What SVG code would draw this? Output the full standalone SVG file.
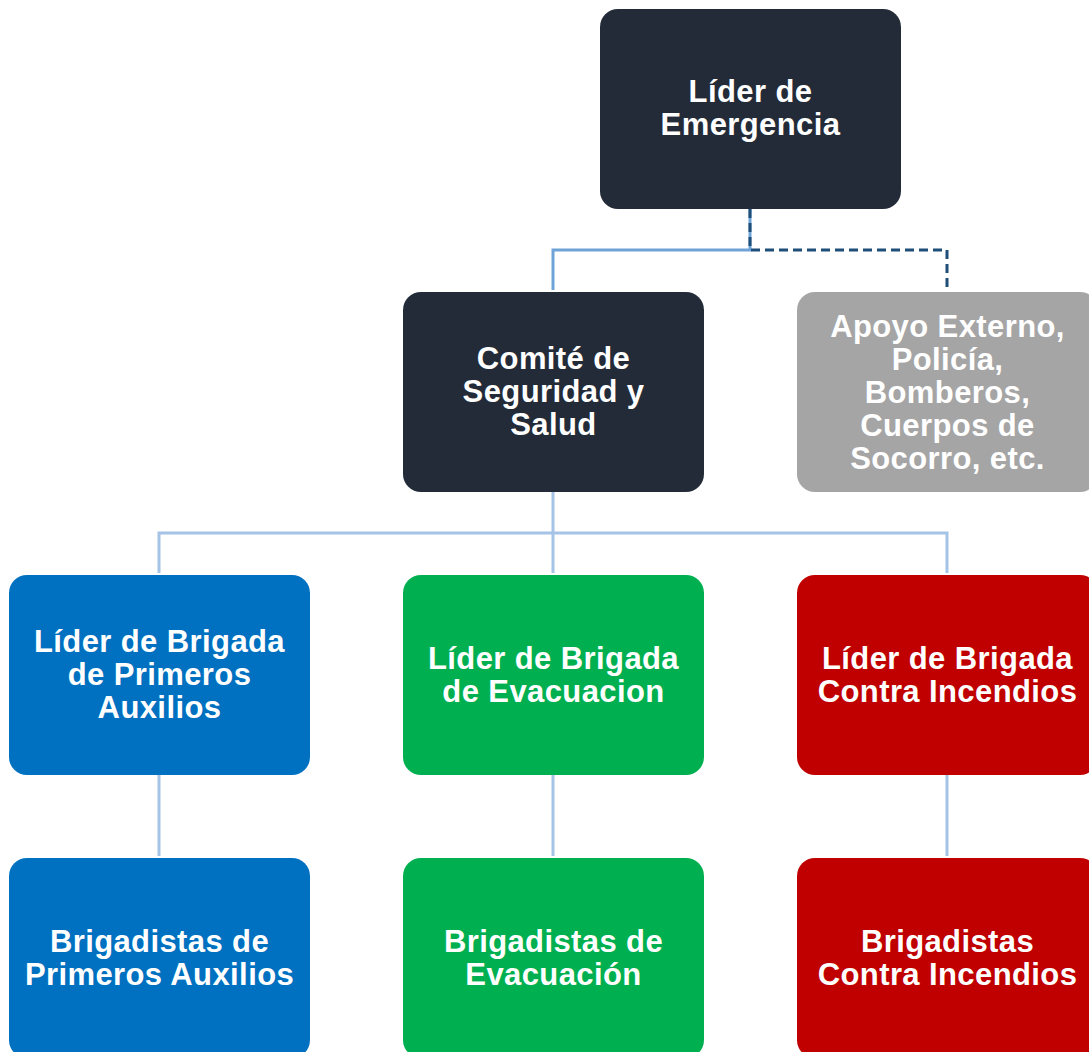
<svg xmlns="http://www.w3.org/2000/svg" width="1089" height="1052" viewBox="0 0 1089 1052">
<style>
.t{font-family:"Liberation Sans",Arial,sans-serif;font-weight:bold;font-size:31px;letter-spacing:0.4px;fill:#fff;text-anchor:middle}
.dark{fill:#232B38}.gray{fill:#A5A5A5}.blue{fill:#0070C0}.green{fill:#00B050}.red{fill:#C00000}
.c1{stroke:#6FA3D8;stroke-width:3;fill:none}
.c2{stroke:#A4C3E6;stroke-width:3;fill:none}
.d{stroke:#1F4E79;stroke-width:3;fill:none;stroke-dasharray:9 5}
</style>
<g id="connectors">
<path class="c1" d="M750 209V250H553V290"/>
<path class="d" d="M750 209V250H947V290"/>
<path class="c2" d="M553 492V533M159 573V533H947V573M553 533V573"/>
<path class="c2" d="M159 775V856M553 775V856M947 775V856"/>
</g>
<g id="n1"><rect class="dark" x="600" y="9" width="301" height="200" rx="18"/><text class="t" x="750.5" y="102">Líder de</text><text class="t" x="750.5" y="135">Emergencia</text></g>
<g id="n2"><rect class="dark" x="403" y="292" width="301" height="200" rx="18"/><text class="t" x="553.5" y="369">Comité de</text><text class="t" x="553.5" y="402">Seguridad y</text><text class="t" x="553.5" y="435">Salud</text></g>
<g id="n3"><rect class="gray" x="797" y="292" width="301" height="200" rx="18"/><text class="t" x="947.5" y="337">Apoyo Externo,</text><text class="t" x="947.5" y="370">Policía,</text><text class="t" x="947.5" y="403">Bomberos,</text><text class="t" x="947.5" y="436">Cuerpos de</text><text class="t" x="947.5" y="469">Socorro, etc.</text></g>
<g id="n4"><rect class="blue" x="9" y="575" width="301" height="200" rx="18"/><text class="t" x="159.5" y="652">Líder de Brigada</text><text class="t" x="159.5" y="685">de Primeros</text><text class="t" x="159.5" y="718">Auxilios</text></g>
<g id="n5"><rect class="green" x="403" y="575" width="301" height="200" rx="18"/><text class="t" x="553.5" y="669">Líder de Brigada</text><text class="t" x="553.5" y="702">de Evacuacion</text></g>
<g id="n6"><rect class="red" x="797" y="575" width="301" height="200" rx="18"/><text class="t" x="947.5" y="669">Líder de Brigada</text><text class="t" x="947.5" y="702">Contra Incendios</text></g>
<g id="n7"><rect class="blue" x="9" y="858" width="301" height="200" rx="18"/><text class="t" x="159.5" y="952">Brigadistas de</text><text class="t" x="159.5" y="985">Primeros Auxilios</text></g>
<g id="n8"><rect class="green" x="403" y="858" width="301" height="200" rx="18"/><text class="t" x="553.5" y="952">Brigadistas de</text><text class="t" x="553.5" y="985">Evacuación</text></g>
<g id="n9"><rect class="red" x="797" y="858" width="301" height="200" rx="18"/><text class="t" x="947.5" y="952">Brigadistas</text><text class="t" x="947.5" y="985">Contra Incendios</text></g>
</svg>
